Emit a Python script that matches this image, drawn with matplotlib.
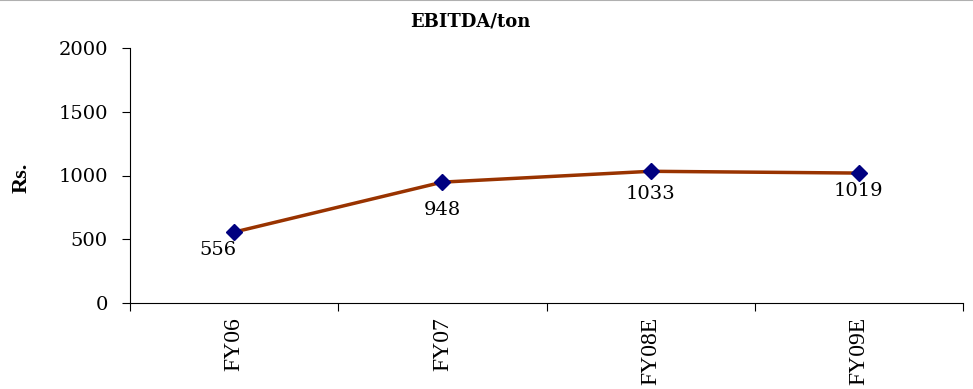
import matplotlib
matplotlib.use("Agg")
import matplotlib.pyplot as plt
from matplotlib.lines import Line2D

# ---------- dados ----------
anos = ["FY06", "FY07", "FY08E", "FY09E"]
ebitda_ton = [556, 948, 1033, 1019]
yticks = [0, 500, 1000, 1500, 2000]
# ---------------------------

LINHA = "#993300"
MARCADOR = "#000080"

fig = plt.figure(figsize=(9.73, 3.89), dpi=100)
ax = fig.add_axes([130 / 973, 1 - 303 / 389, 833 / 973, 255 / 389])

x = list(range(len(anos)))
ax.plot(x, ebitda_ton, color=LINHA, lw=2.5, zorder=2)
ax.plot(x, ebitda_ton, ls="none", marker="D", ms=8, color=MARCADOR, zorder=3)

# rótulos de valor abaixo de cada ponto
desloc = [(-12, -13), (0, -20), (0, -16), (0, -13)]
for xi, v, (dx, dy) in zip(x, ebitda_ton, desloc):
    ax.annotate(f"{v}", (xi, v), xytext=(dx, dy), textcoords="offset points",
                ha="center", va="center", family="DejaVu Serif", fontsize=14)

ax.set_xlim(-0.5, len(anos) - 0.5)
ax.set_ylim(0, 2000)
ax.set_yticks(yticks)
ax.set_yticklabels([str(t) for t in yticks], family="DejaVu Serif", fontsize=14)
ax.tick_params(axis="y", direction="out", length=6, width=0.8, pad=10)

ax.set_xticks(x)
ax.set_xticklabels(anos, rotation=90, family="Liberation Serif", fontsize=17)
ax.tick_params(axis="x", which="major", length=0, pad=10)
ax.set_xticks([i - 0.5 for i in range(len(anos) + 1)], minor=True)
ax.tick_params(axis="x", which="minor", direction="out", length=6, width=0.8)

for lado in ("top", "right"):
    ax.spines[lado].set_visible(False)
for lado in ("left", "bottom"):
    ax.spines[lado].set_linewidth(0.8)

fig.text(470 / 973, 1 - 22 / 389, "EBITDA/ton", ha="center", va="center",
         family="DejaVu Serif", fontweight="bold", fontsize=13)
fig.text(22 / 973, 1 - 178 / 389, "Rs.", ha="center", va="center", rotation=90,
         family="Liberation Serif", fontweight="bold", fontsize=16)

# borda cinza no topo
fig.add_artist(Line2D([0, 1], [0.999, 0.999], transform=fig.transFigure,
                      color="#b0b0b0", lw=1.5))

fig.savefig("out.png", dpi=100)
plt.close(fig)
